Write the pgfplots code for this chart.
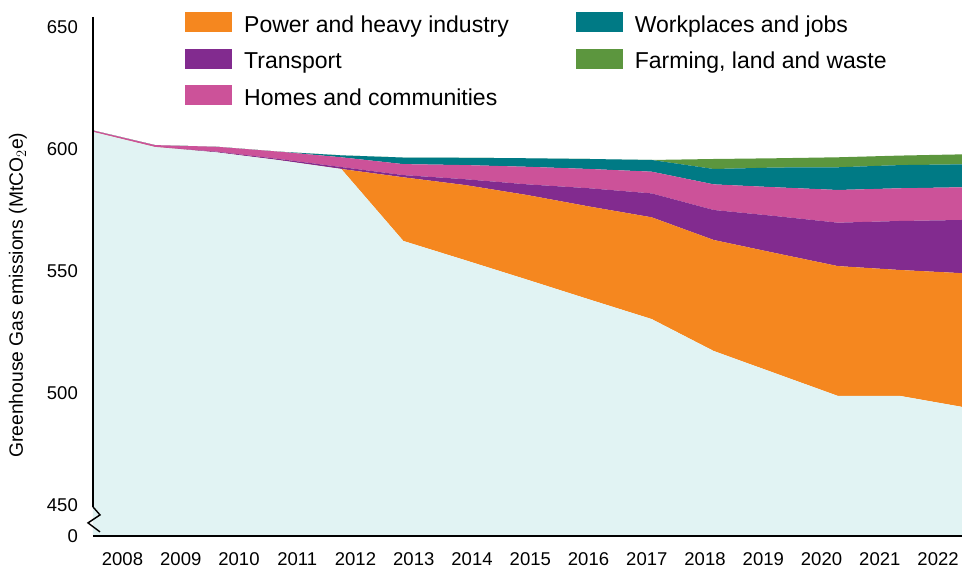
\documentclass[border=0pt]{standalone}
\usepackage{fontspec}
\setmainfont{Liberation Sans}
\usepackage{pgfplots}
\usepackage{pgfplotstable}
\pgfplotsset{compat=1.18}
\definecolor{cyanbg}{HTML}{E1F3F3}
\definecolor{corange}{HTML}{F5871F}
\definecolor{cpurple}{HTML}{822B8F}
\definecolor{cpink}{HTML}{CC5299}
\definecolor{cteal}{HTML}{007A85}
\definecolor{cgreen}{HTML}{5C963E}
\pgfplotstableread{
i base orange purple pink teal green
0 607.0 0 0 0.6 0 0
1 600.8 0 0 0.8 0 0
2 598.6 0 0.3 2.0 0 0
3 595.4 0 0.5 3.0 0 0
4 591.8 0 0.8 4.0 0.8 0
5 562.3 26.1 0.9 4.5 2.7 0
6 554.4 30.8 2.4 5.8 3.0 0
7 546.4 34.7 4.4 7.2 3.5 0
8 538.3 38.1 7.5 7.9 4.1 0
9 530.3 41.7 9.8 8.9 4.8 0
10 517.2 45.5 12.3 10.5 6.3 4.1
11 508.0 49.3 15.2 11.8 8.1 3.8
12 498.8 53.2 17.8 13.4 9.3 4.1
13 498.8 51.6 20.1 13.4 9.5 3.9
14 494.3 54.8 21.8 13.4 9.4 4.1
}\data
\begin{document}
\begin{tikzpicture}
\begin{axis}[
  name=ax,
  scale only axis,
  width=869pt, height=519.2pt,
  xmin=0, xmax=14,
  ymin=441.3, ymax=654.1,
  stack plots=y,
  axis line style={draw=none},
  major tick length=0pt,
  xtick={0.475,1.414,2.352,3.291,4.229,5.168,6.106,7.045,7.983,8.922,9.860,10.799,11.737,12.676,13.614},
  xticklabels={2008,2009,2010,2011,2012,2013,2014,2015,2016,2017,2018,2019,2020,2021,2022},
  ytick={441.3,453.9,500,550,600,650},
  yticklabels={0,450,500,550,600,650},
  /pgf/number format/assume math mode=true,
  tick label style={font=\fontsize{18.5}{18.5}\selectfont},
  yticklabel style={inner sep=0pt, xshift=-15pt},
  xticklabel style={inner sep=0pt, anchor=north, yshift=-16pt},
  ylabel={Greenhouse Gas emissions (MtCO$_2$e)},
  ylabel style={at={(axis description cs:-0.0863,0.464)}, anchor=center, font=\fontsize{19.3}{19.3}\selectfont},
  legend columns=3,
  transpose legend,
  legend image code/.code={\fill[#1] (0pt,0pt) rectangle (47pt,20pt);},
  legend style={at={(rel axis cs:0.1059,1.0096)}, anchor=north west, draw=none, fill=none, inner sep=0pt,
    font=\fontsize{23}{23}\selectfont, row sep=15pt,
    nodes={inner sep=0pt},
    cells={anchor=base west},
    /tikz/every odd column/.append style={column sep=12pt},
    /tikz/every even column/.append style={column sep=67pt}},
]
\addplot[fill=cyanbg, draw=none, forget plot] table[x=i,y=base] {\data} \closedcycle;
\addplot[fill=corange, draw=none] table[x=i,y=orange] {\data} \closedcycle;
\addlegendentry{Power and heavy industry}
\addplot[fill=cpurple, draw=none] table[x=i,y=purple] {\data} \closedcycle;
\addlegendentry{Transport}
\addplot[fill=cpink, draw=none] table[x=i,y=pink] {\data} \closedcycle;
\addlegendentry{Homes and communities}
\addplot[fill=cteal, draw=none] table[x=i,y=teal] {\data} \closedcycle;
\addlegendentry{Workplaces and jobs}
\addplot[fill=cgreen, draw=none] table[x=i,y=green] {\data} \closedcycle;
\addlegendentry{Farming, land and waste}
\coordinate (ytop) at (axis cs:0,654.1);
\coordinate (ybrk) at (axis cs:0,453.3);
\coordinate (x0) at (axis cs:0,441.3);
\coordinate (x1) at (axis cs:14,441.3);
\end{axis}
\draw[line width=2.2pt, black] (ytop) -- (ybrk);
\draw[line width=1.4pt, black, line join=miter] (ybrk) -- ++(7pt,-8pt) -- ++(-12pt,-8pt) -- ++(12pt,-9pt);
\draw[line width=2.2pt, black] (x0) -- (x1);
\pgfresetboundingbox
\path ([shift={(-93pt,-34pt)}]ax.south west) rectangle ([shift={(0pt,17pt)}]ax.north east);
\end{tikzpicture}
\end{document}
